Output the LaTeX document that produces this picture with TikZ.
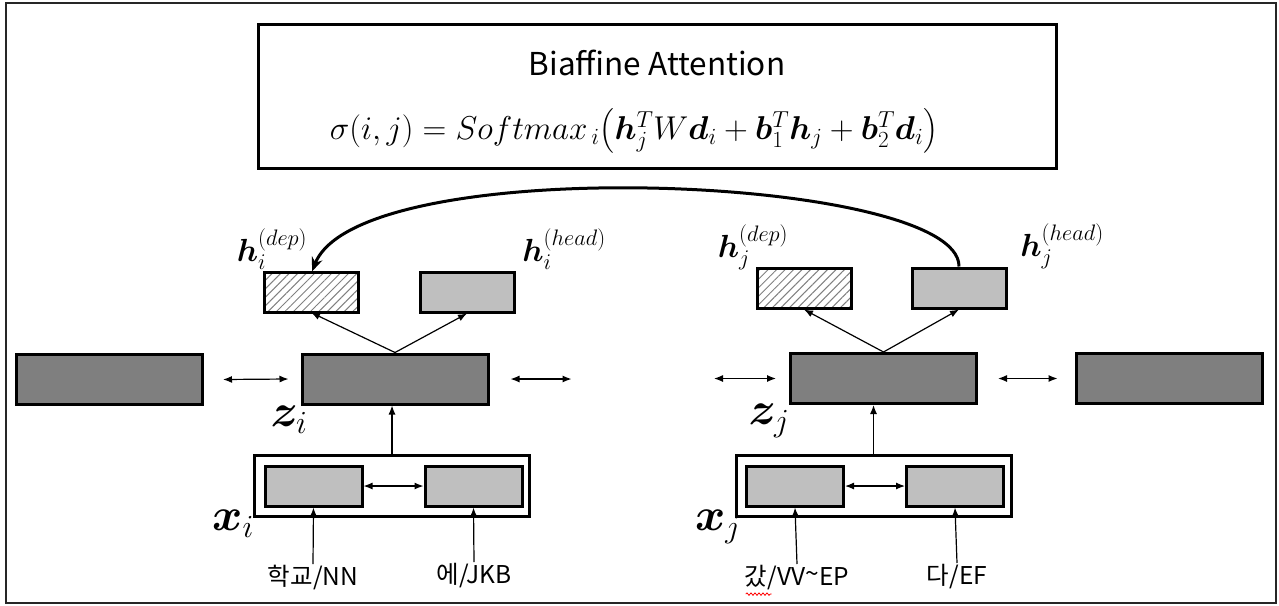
\RequirePackage{fix-cm}
\documentclass[tikz,border=0pt]{standalone}
\usepackage{fontspec}
\usepackage{amsmath}
\usepackage{bm}
\usetikzlibrary{arrows.meta,patterns.meta,calc,decorations.pathmorphing}
\newfontfamily\kr{Noto Sans CJK KR}
\definecolor{darkfill}{HTML}{7F7F7F}
\definecolor{lightfill}{HTML}{BFBFBF}
\tikzset{
  dbox/.style={draw, line width=3pt, fill=darkfill, minimum width=186pt, minimum height=50pt, inner sep=0pt},
  lbox/.style={draw, line width=3pt, fill=lightfill, minimum width=94pt, minimum height=40pt, inner sep=0pt},
  hbox/.style={draw, line width=3pt, pattern={Lines[angle=45,distance=6pt,line width=1pt]}, pattern color=gray, minimum width=94pt, minimum height=40pt, inner sep=0pt},
  ibox/.style={draw, line width=3pt, fill=lightfill, minimum width=97pt, minimum height=40pt, inner sep=0pt},
  obox/.style={draw, line width=3pt, fill=white, minimum width=275pt, minimum height=61pt, inner sep=0pt},
  arr/.style={line width=1.2pt, -{Latex[length=9pt,width=7pt]}},
  darr/.style={line width=1.2pt, {Latex[length=9pt,width=7pt]}-{Latex[length=9pt,width=7pt]}},
  lbl/.style={inner sep=0pt, font=\fontsize{32}{36}\selectfont},
  big/.style={inner sep=0pt, font=\fontsize{46}{52}\selectfont},
  wlbl/.style={inner sep=1pt, font=\kr\fontsize{24.5}{28}\selectfont},
}
\begin{document}
\begin{tikzpicture}[x=1pt,y=-1pt]
\useasboundingbox (0,0) rectangle (1279,605);
\node[draw=black!85, line width=2pt, minimum width=1270pt, minimum height=600pt, inner sep=0pt] (frame) at (640.5,302.5) {};
% title box
\node[draw, line width=3pt, minimum width=798pt, minimum height=144pt, inner sep=0pt] (title) at (657,96) {};
\node[inner sep=0pt, font=\kr\fontsize{31.5}{36}\selectfont] (ttl) at (657,63) {Biaffine Attention};
\node[inner sep=0pt, font=\fontsize{33}{40}\selectfont] (eq) at (634,131) {$\sigma(i,j) = Softmax_{\,i}\bigl(\bm{h}_j^T W\bm{d}_i + \bm{b}_1^T\bm{h}_j + \bm{b}_2^T\bm{d}_i\bigr)$};
% left side
\node[dbox] (zl) at (109.5,379.5) {};
\node[dbox] (zi) at (395,379) {};
\node[hbox] (hid) at (311,292) {};
\node[lbox] (hih) at (467,292) {};
\node[obox] (xi) at (392,486) {};
\node[ibox] (xi1) at (313.5,486) {};
\node[ibox] (xi2) at (473.5,486) {};
% right side
\node[dbox] (zj) at (883.5,378.5) {};
\node[dbox] (zr) at (1169,378.5) {};
\node[hbox] (hjd) at (804,288) {};
\node[lbox] (hjh) at (959,288) {};
\node[obox] (xj) at (873.5,486) {};
\node[ibox] (xj1) at (795,486) {};
\node[ibox] (xj2) at (955,486) {};
% labels
\node[lbl] (lhid) at (272,249) {$\bm{h}_i^{(dep)}$};
\node[lbl] (lhih) at (564,249) {$\bm{h}_i^{(head)}$};
\node[lbl] (lhjd) at (753,247) {$\bm{h}_j^{(dep)}$};
\node[lbl] (lhjh) at (1062,246) {$\bm{h}_j^{(head)}$};
\node[big] (lzi) at (289,420) {$\bm{z}_i$};
\node[big] (lzj) at (769,421) {$\bm{z}_j$};
\node[big] (lxi) at (233,524) {$\bm{x}_i$};
\node[big] (lxj) at (718,527) {$\bm{x}_j$};
% word labels
\node[wlbl, anchor=north] (w1) at (313,564) {학교/NN};
\node[wlbl, anchor=north] (w2) at (474,562) {에/JKB};
\node[wlbl, anchor=north] (w3) at (797,564) {갔/VV\raisebox{3pt}{\textasciitilde}EP};
\node[wlbl, anchor=north] (w4) at (957,563) {다/EF};
\draw[red, line width=0.8pt, decorate, decoration={snake, amplitude=1.2pt, segment length=4pt}] ($(w3.south west)+(2,3)$) -- ($(w3.south west)+(28,3)$);
% arrows
\draw[arr] (zi.north) -- (hid.south);
\draw[arr] (zi.north) -- (hih.south);
\draw[arr] (zj.north) -- (hjd.south);
\draw[arr] (zj.north) -- (hjh.south);
\draw[arr] (xi.north) -- (xi.north |- zi.south);
\draw[arr] (xj.north) -- (xj.north |- zj.south);
\draw[darr] ($(zl.east)+(19,0)$) -- ($(zi.west)+(-12,0)$);
\draw[darr] ($(zi.east)+(21,0)$) -- ($(zi.east)+(82,0)$);
\draw[darr] ($(zj.west)+(-75,0)$) -- ($(zj.west)+(-13,0)$);
\draw[darr] ($(zj.east)+(20,0)$) -- ($(zr.west)+(-17,0)$);
\draw[darr] (xi1.east) -- (xi2.west);
\draw[darr] (xj1.east) -- (xj2.west);
\draw[arr] (w1.north) -- (xi1.south);
\draw[arr] (w2.north) -- (xi2.south);
\draw[arr] (w3.north) -- (xj1.south);
\draw[arr] (w4.north) -- (xj2.south);
% biaffine curve
\draw[line width=3pt, -{Stealth[length=14pt,width=11pt]}] (hjh.north) .. controls (960,175) and (360,150) .. ($(hid.north)+(1,0)$);
\end{tikzpicture}
\end{document}
